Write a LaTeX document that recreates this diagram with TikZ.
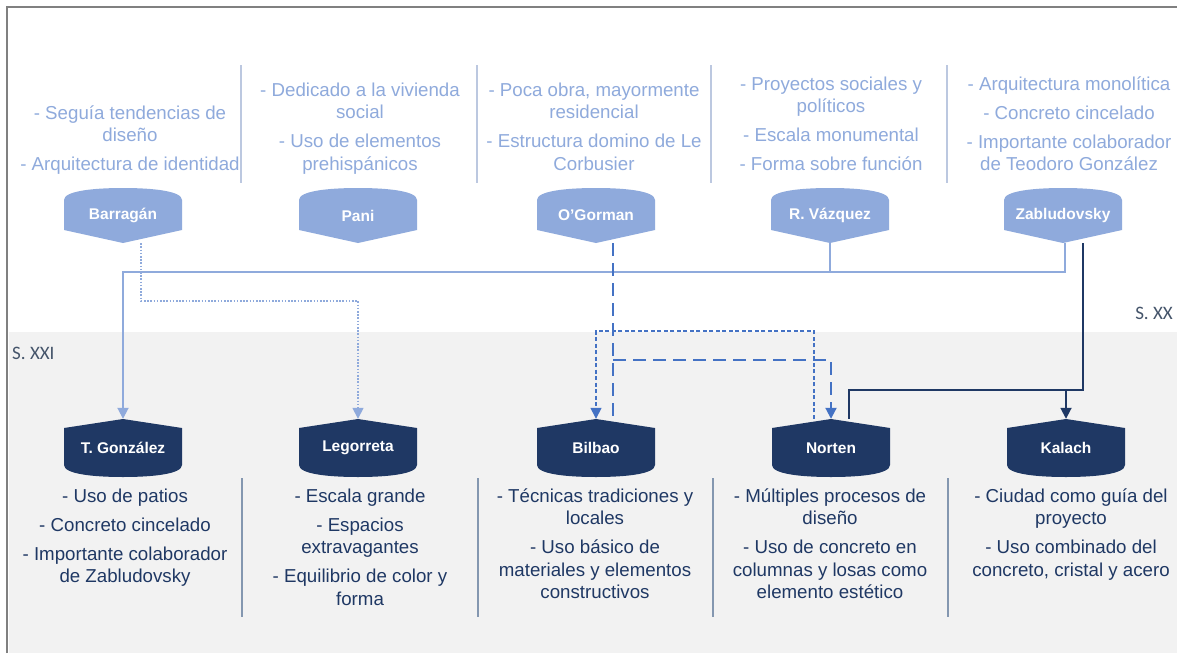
\documentclass[tikz,border=0pt]{standalone}
\usepackage{fontspec}
\setmainfont{Liberation Sans}
\newfontfamily\carlitofont{Carlito}
\usetikzlibrary{arrows.meta,calc}
\definecolor{topblue}{HTML}{8FAADC}
\definecolor{navy}{HTML}{1F3864}
\definecolor{medblue}{HTML}{4472C4}
\definecolor{bandgray}{HTML}{F2F2F2}
\definecolor{framegray}{HTML}{808080}
\definecolor{topsep}{HTML}{BCC8E0}
\definecolor{botsep}{HTML}{8497B0}
\definecolor{labelgray}{HTML}{44546A}
\pgfdeclarelayer{back}
\pgfdeclarelayer{conn}
\pgfsetlayers{back,conn,main}
\begin{document}
\begin{tikzpicture}[x=1pt,y=-1pt,
  topnode/.style={minimum width=118pt, minimum height=55pt, inner sep=0pt, text=white,
    font=\fontsize{15.5}{18}\selectfont\bfseries,
    path picture={\fill[topblue] (path picture bounding box.south)
      -- ([yshift=13pt]path picture bounding box.south east)
      -- ([yshift=-12pt]path picture bounding box.north east)
      .. controls ([yshift=-3pt]path picture bounding box.north east) and ([xshift=30pt]path picture bounding box.north) .. (path picture bounding box.north)
      .. controls ([xshift=-30pt]path picture bounding box.north) and ([yshift=-3pt]path picture bounding box.north west) .. ([yshift=-12pt]path picture bounding box.north west)
      -- ([yshift=13pt]path picture bounding box.south west) -- cycle;}},
  botnode/.style={minimum width=118pt, minimum height=58pt, inner sep=0pt, text=white,
    font=\fontsize{15.5}{18}\selectfont\bfseries,
    path picture={\fill[navy] (path picture bounding box.north)
      -- ([yshift=-9pt]path picture bounding box.north east)
      -- ([yshift=12pt]path picture bounding box.south east)
      .. controls ([yshift=3pt]path picture bounding box.south east) and ([xshift=30pt]path picture bounding box.south) .. (path picture bounding box.south)
      .. controls ([xshift=-30pt]path picture bounding box.south) and ([yshift=3pt]path picture bounding box.south west) .. ([yshift=12pt]path picture bounding box.south west)
      -- ([yshift=-9pt]path picture bounding box.north west) -- cycle;}},
  toptext/.style={anchor=north, inner sep=0pt, align=center, text=topblue,
    font=\fontsize{18.7}{22.5}\selectfont},
  bottext/.style={anchor=north, inner sep=0pt, align=center, text=navy,
    font=\fontsize{18.7}{22.5}\selectfont},
  eralabel/.style={inner sep=0pt, text=labelgray, font=\carlitofont\fontsize{19}{22}\selectfont},
  topsepline/.style={draw=topsep, line width=1.5pt},
  botsepline/.style={draw=botsep, line width=2pt},
  tipped/.style={-{Triangle[length=11pt,width=11pt]}},
  lightline/.style={draw=topblue, line width=1.8pt},
  darkline/.style={draw=navy, line width=1.8pt},
  dotline/.style={draw=topblue, line width=1.6pt, dash pattern=on 1.6pt off 1.6pt},
  dashline/.style={draw=medblue, line width=2pt, dash pattern=on 13pt off 7pt},
  sdashline/.style={draw=medblue, line width=1.5pt, dash pattern=on 4pt off 2.5pt},
]
\useasboundingbox (0,0) rectangle (1177,653);
\begin{pgfonlayer}{back}
  \fill[white] (0,0) rectangle (1177,653);
  \fill[bandgray] (8.5,332) rectangle (1177,653);
  \draw[framegray, line width=2.6pt] (7,653) -- (7,7) -- (1177,7);
\end{pgfonlayer}

% top separators
\draw[topsepline] (241,65) -- (241,183);
\draw[topsepline] (477,65) -- (477,183);
\draw[topsepline] (711,65) -- (711,183);
\draw[topsepline] (947,65) -- (947,183);
% bottom separators
\draw[botsepline] (242,478) -- (242,617);
\draw[botsepline] (478,478) -- (478,617);
\draw[botsepline] (713,478) -- (713,617);
\draw[botsepline] (948,478) -- (948,617);

% top texts
\node[toptext] (txbarragan) at (130,105.5) {- Seguía tendencias de\\diseño\\[6.5pt]- Arquitectura de identidad};
\node[toptext] (txpani) at (360,82.5) {- Dedicado a la vivienda\\social\\[6.5pt]- Uso de elementos\\prehispánicos};
\node[toptext] (txogorman) at (594,82.5) {- Poca obra, mayormente\\residencial\\[6.5pt]- Estructura domino de Le\\Corbusier};
\node[toptext] (txrvazquez) at (831,76.5) {- Proyectos sociales y\\políticos\\[6.5pt]- Escala monumental\\[6.5pt]- Forma sobre función};
\node[toptext] (txzab) at (1069,76.5) {- Arquitectura monolítica\\[6.5pt]- Concreto cincelado\\[6.5pt]- Importante colaborador\\de Teodoro González};

% bottom texts
\node[bottext] (txtgonz) at (125,488.5) {- Uso de patios\\[6.5pt]- Concreto cincelado\\[6.5pt]- Importante colaborador\\de Zabludovsky};
\node[bottext] (txlegorreta) at (360,488.5) {- Escala grande\\[6.5pt]- Espacios\\extravagantes\\[6.5pt]- Equilibrio de color y\\forma};
\node[bottext] (txbilbao) at (595,488.5) {- Técnicas tradiciones y\\locales\\[6.5pt]- Uso básico de\\materiales y elementos\\constructivos};
\node[bottext] (txnorten) at (830,488.5) {- Múltiples procesos de\\diseño\\[6.5pt]- Uso de concreto en\\columnas y losas como\\elemento estético};
\node[bottext] (txkalach) at (1071,488.5) {- Ciudad como guía del\\proyecto\\[6.5pt]- Uso combinado del\\concreto, cristal y acero};

% era labels
\node[eralabel, anchor=west] (sxxi) at (12,353) {S. XXI};
\node[eralabel, anchor=east] (sxx) at (1173,313) {S. XX};

% nodes
\node[topnode] (barragan) at (123,215.5) {Barragán};
\node[topnode] (pani) at (358,215.5) {Pani};
\node[topnode] (ogorman) at (596,215.5) {O’Gorman};
\node[topnode] (rvazquez) at (830,215.5) {R. Vázquez};
\node[topnode] (zab) at (1063,215.5) {Zabludovsky};

\node[botnode] (tgonz) at (123,448) {T. González};
\node[botnode] (legorreta) at (358,448) {Legorreta};
\node[botnode] (bilbao) at (596,448) {Bilbao};
\node[botnode] (norten) at (831,448) {Norten};
\node[botnode] (kalach) at (1066,448) {Kalach};

% connectors
\begin{pgfonlayer}{conn}
  \coordinate (ylight) at (0,272);
  \coordinate (ydot) at (0,301);
  \coordinate (ysd) at (0,331);
  \coordinate (ydash) at (0,360);
  \coordinate (ydark) at (0,390);
  \draw[lightline, tipped] ([xshift=2pt]zab.south) -- ([xshift=2pt]zab.south |- ylight) -| (tgonz.north);
  \draw[lightline] (rvazquez.south) -- (rvazquez.south |- ylight);
  \draw[dotline, tipped] ([xshift=18pt]barragan.south) -- ([xshift=18pt]barragan.south |- ydot) -| (legorreta.north);
  \draw[dashline] ([xshift=17pt]ogorman.south) -- ([xshift=17pt]bilbao.north);
  \draw[dashline, tipped] ([xshift=17pt]ogorman.south |- ydash) -| (norten.north);
  \draw[sdashline, tipped] ([xshift=-17pt]norten.north) -- ([xshift=-17pt]norten.north |- ysd) -| (bilbao.north);
  \draw[darkline] ([xshift=20pt]zab.south) -- ([xshift=20pt]zab.south |- ydark) -| ([xshift=18pt]norten.north);
  \draw[darkline, tipped] (kalach.north |- ydark) -- (kalach.north);
\end{pgfonlayer}
\end{tikzpicture}
\end{document}
